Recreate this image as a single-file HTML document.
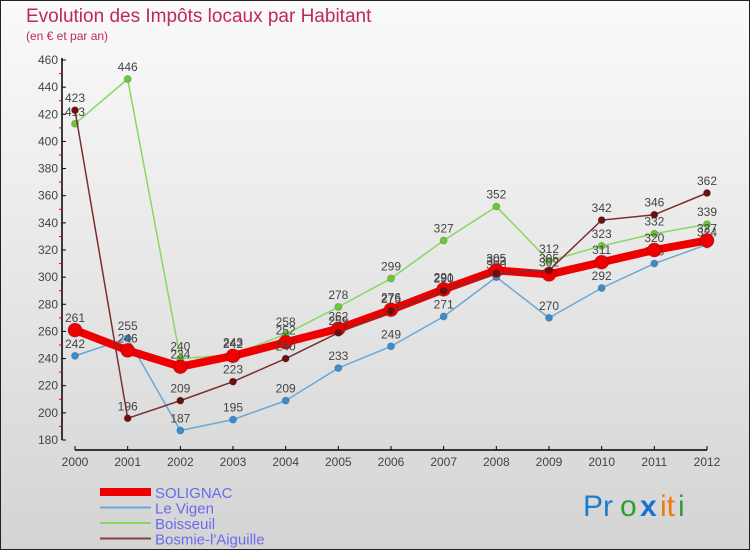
<!DOCTYPE html>
<html><head><meta charset="utf-8"><style>
body{margin:0;width:750px;height:550px;overflow:hidden;font-family:"Liberation Sans",sans-serif}
</style></head><body>
<svg width="750" height="550" xmlns="http://www.w3.org/2000/svg">
<defs><linearGradient id="bg" x1="0" y1="0" x2="0" y2="1"><stop offset="0" stop-color="#fafafa"/><stop offset="1" stop-color="#d4d4d4"/></linearGradient></defs>
<rect x="0.5" y="0.5" width="749" height="549" fill="url(#bg)" stroke="#222"/>
<text x="26" y="22" font-size="19" fill="#c0285a">Evolution des Impôts locaux par Habitant</text>
<text x="26" y="40" font-size="12" fill="#c0285a">(en € et par an)</text>
<g id="axes"></g>
<g id="series"></g>
<g id="legend"></g>
<g font-size="30" font-family="Liberation Sans, sans-serif">
<text x="583" y="516" fill="#1a7fd0">Pr</text><text x="620" y="516" fill="#2aa030">o</text><text x="640" y="516" fill="#1a6fd0" font-weight="bold">x</text><text x="660" y="516" fill="#f07a10">it</text><text x="678" y="516" fill="#30a040">i</text>
</g>
</svg>
<script>
const years=["2000","2001","2002","2003","2004","2005","2006","2007","2008","2009","2010","2011","2012"];
const solignac=[261,246,234,242,252,262,276,291,305,302,311,320,327];
const leVigen=[242,255,187,195,209,233,249,271,300,270,292,310,324];
const boisseuil=[413,446,240,243,258,278,299,327,352,312,323,332,339];
const bosmie=[423,196,209,223,240,259,275,290,303,305,342,346,362];
const yTicks=[180,200,220,240,260,280,300,320,340,360,380,400,420,440,460];
const NS="http://www.w3.org/2000/svg";
const X=i=>75+i*(632/12);
const Y=v=>440-(v-180)*(380/280);
function mk(tag,attrs,parent){const e=document.createElementNS(NS,tag);for(const k in attrs)e.setAttribute(k,attrs[k]);parent.appendChild(e);return e;}
const ax=document.getElementById('axes');
let l=mk('line',{x1:62,y1:58,x2:62,y2:440,stroke:'#000','stroke-width':1.5},ax);


l=mk('line',{x1:75,y1:450,x2:707,y2:450,stroke:'#000','stroke-width':1.5},ax);


yTicks.forEach((t,i)=>{
 mk('line',{x1:62,y1:Y(t),x2:66,y2:Y(t),stroke:'#000'},ax);
 if(i<yTicks.length-1) mk('line',{x1:59,y1:Y(t+10),x2:62,y2:Y(t+10),stroke:'#e00'},ax);
 const tx=mk('text',{x:58,y:Y(t)+4,'font-size':12,fill:'#444','text-anchor':'end'},ax);
 tx.textContent=t;
 
 
});
years.forEach((y,i)=>{
 mk('line',{x1:X(i),y1:446,x2:X(i),y2:450,stroke:'#000'},ax);
 const tx=mk('text',{x:X(i),y:466,'font-size':12,fill:'#444','text-anchor':'middle'},ax);
 tx.textContent=y;
 
 
});
const S=document.getElementById('series');
const defs=[
 {d:boisseuil,c:'#88d860',pc:'#66cc33',w:1.5,r:3.5,n:'boisseuil'},
 {d:leVigen,c:'#6aa8d8',pc:'#3a8ed0',w:1.5,r:3.5,n:'le-vigen'},
 {d:solignac,c:'#ee0000',pc:'#ee0000',w:8,r:7,n:'solignac'},
 {d:bosmie,c:'#7a3030',pc:'#6a1010',w:1.5,r:3.5,n:'bosmie'}
];
defs.forEach(s=>{
 const g=mk('g',{},S);
 
 
 const p=mk('polyline',{points:s.d.map((v,i)=>X(i)+','+Y(v)).join(' '),fill:'none',stroke:s.c,'stroke-width':s.w,'stroke-linejoin':'round'},g);
 
 
 s.d.forEach((v,i)=>{
  const c=mk('circle',{cx:X(i),cy:Y(v),r:s.r,fill:s.pc,stroke:'rgba(0,0,0,0.2)'},g);
  
  
  const t=mk('text',{x:X(i),y:Y(v)-8,'font-size':12,fill:'#444','text-anchor':'middle'},g);
  t.textContent=v;
  
  
 });
});
const L=document.getElementById('legend');
const leg=[['SOLIGNAC','#ee0000',8],['Le Vigen','#6aa8d8',2],['Boisseuil','#88d860',2],['Bosmie-l\'Aiguille','#8a4040',2]];
leg.forEach((e,i)=>{
 const y=492+i*15.5;
 const ln=mk('line',{x1:100,y1:y,x2:151,y2:y,stroke:e[1],'stroke-width':e[2]},L);
 
 
 const t=mk('text',{x:155,y:y+6,'font-size':15,fill:'#6a6aee'},L);
 t.textContent=e[0];
 
 
});
</script>
</body></html>
